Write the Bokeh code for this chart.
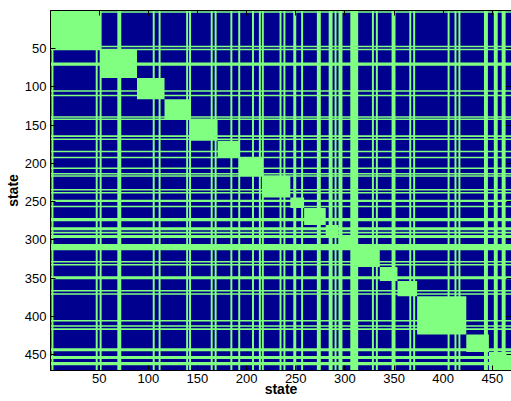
import numpy as np
from bokeh.plotting import figure
from bokeh.models import Range1d, LinearAxis, FixedTicker
from bokeh.embed import file_html
from bokeh.resources import INLINE

# ---- data -------------------------------------------------------------
N_STATES = 470
block_starts = [1, 52, 89, 117, 143, 171, 193, 217, 245, 259, 281, 294, 312, 336, 354, 374, 424, 447]
block_ends = [51, 88, 116, 142, 170, 192, 216, 244, 258, 280, 293, 311, 335, 353, 373, 423, 446, 470]
line_starts = [2, 47, 51, 69, 105, 111, 139, 142, 164, 168, 184, 192, 206, 213, 216, 234, 238,
               248, 256, 272, 284, 290, 294, 306, 328, 332, 348, 366, 370, 405, 412, 416, 442,
               452, 460]
line_ends = [3, 48, 52, 72, 106, 112, 140, 143, 165, 169, 185, 193, 207, 214, 217, 235, 239,
             250, 257, 275, 287, 291, 297, 313, 329, 333, 351, 367, 371, 406, 413, 417, 445,
             455, 463]
tick_values = [50, 100, 150, 200, 250, 300, 350, 400, 450]
axis_title = "state"

LOW = "#00008F"
HIGH = "#80FF80"
FONT = "Liberation Sans"

lo = 0.5
hi = N_STATES + 0.5
bs = np.array(block_starts) - 0.5
be = np.array(block_ends) + 0.5
ls = np.array(line_starts) - 0.5
le = np.array(line_ends) + 0.5

p = figure(width=511, height=401, output_backend="svg", toolbar_location=None,
           x_range=Range1d(0.5, 469.5), y_range=Range1d(hi, lo),
           min_border_left=50, min_border_right=0, min_border_top=10, min_border_bottom=31)
p.grid.visible = False
p.outline_line_color = "black"
p.background_fill_color = "white"

# base matrix
p.quad(left=[lo], right=[hi], top=[lo], bottom=[hi], fill_color=LOW, line_color=None)
# diagonal blocks
p.quad(left=bs, right=be, top=bs, bottom=be, fill_color=HIGH, line_color=None)
# full columns
p.quad(left=ls, right=le, top=[lo] * len(ls), bottom=[hi] * len(ls), fill_color=HIGH, line_color=None)
# full rows
p.quad(left=[lo] * len(ls), right=[hi] * len(ls), top=ls, bottom=le, fill_color=HIGH, line_color=None)

ticker = FixedTicker(ticks=tick_values)
for ax in (p.xaxis[0], p.yaxis[0]):
    ax.ticker = ticker
    ax.major_tick_in = 5
    ax.major_tick_out = 0
    ax.minor_tick_line_color = None
    ax.axis_line_color = "black"
    ax.major_tick_line_color = "black"
    ax.major_label_text_font = FONT
    ax.major_label_text_font_size = "13px"
    ax.major_label_text_color = "black"
    ax.axis_label = axis_title
    ax.axis_label_text_font = FONT
    ax.axis_label_text_font_style = "bold"
    ax.axis_label_text_font_size = "14px"
    ax.axis_label_text_color = "black"

p.xaxis[0].major_label_standoff = 3
p.xaxis[0].axis_label_standoff = -5
p.yaxis[0].major_label_standoff = 4
p.yaxis[0].axis_label_standoff = 1

for side in ("above", "right"):
    ax = LinearAxis(ticker=ticker, major_tick_in=5, major_tick_out=0,
                    minor_tick_line_color=None, major_label_text_font_size="0px",
                    major_label_text_color=None, major_label_standoff=0,
                    axis_line_color="black")
    p.add_layout(ax, side)

open("out.html", "w").write(file_html(p, INLINE))
